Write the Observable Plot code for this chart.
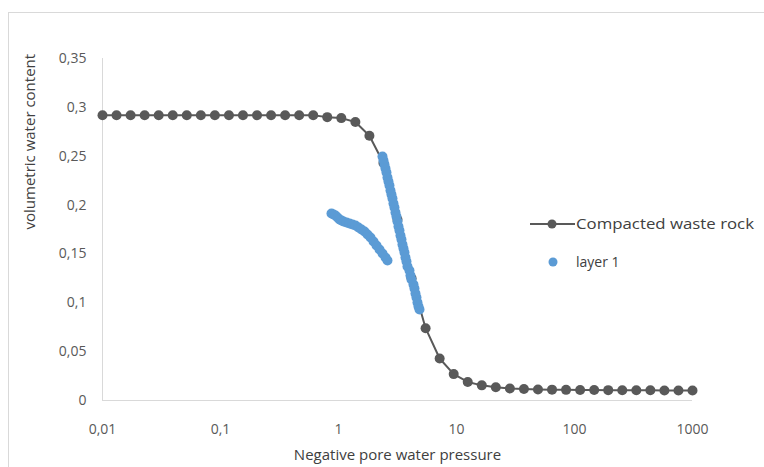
<!DOCTYPE html>
<html><head><meta charset="utf-8">
<script src="https://cdn.jsdelivr.net/npm/d3@7"></script>
<script src="https://cdn.jsdelivr.net/npm/@observablehq/plot@0.6"></script>
<style>
body{margin:0;background:#fff;}
#wrap{position:relative;width:764px;height:467px;overflow:hidden;background:#fff;}
#border{position:absolute;left:8px;top:12px;width:900px;height:600px;border-left:1px solid #d9d9d9;border-top:1px solid #d9d9d9;}
#chart{position:absolute;left:0;top:0;}
#legend{position:absolute;left:520px;top:205px;}
</style>
</head><body>
<div id="wrap"><div id="border"></div><div id="chart"></div>
<svg id="legend" width="244" height="75" font-family="Open Sans, sans-serif">
  <line x1="10" y1="19" x2="55" y2="19" stroke="#595959" stroke-width="2"/>
  <circle cx="32" cy="19" r="4.5" fill="#595959"/>
  <text x="56" y="24" font-size="14" fill="#404040" textLength="178" lengthAdjust="spacingAndGlyphs">Compacted waste rock</text>
  <circle cx="33" cy="57" r="4.5" fill="#5b9bd5"/>
  <text x="56" y="62" font-size="14" fill="#404040">layer 1</text>
</svg>
</div>
<script>
const rockPressure = [0.01,0.01315,0.0173,0.02276,0.02994,0.03938,0.05179,0.06813,0.08961,0.1179,0.155,0.204,0.2683,0.3529,0.4642,0.6105,0.8031,1.056,1.39,1.828,2.404,3.162,4.16,5.471,7.197,9.467,12.45,16.38,21.54,28.34,37.28,49.03,64.5,84.83,111.6,146.8,193.1,254,334.1,439.4,578,760.3,1000];
const rockContent = [0.292,0.292,0.292,0.292,0.292,0.292,0.292,0.292,0.292,0.292,0.292,0.292,0.292,0.292,0.292,0.292,0.290,0.289,0.285,0.271,0.243,0.185,0.125,0.074,0.043,0.027,0.019,0.0155,0.0135,0.0123,0.0117,0.0113,0.0111,0.0109,0.0108,0.0107,0.0106,0.0105,0.0104,0.0104,0.0103,0.0103,0.0102];

const layerPressure = [0.872,0.907,0.943,0.981,1.02,1.06,1.102,1.169,1.239,1.314,1.393,1.477,1.566,1.661,1.761,1.867,1.98,2.099,2.226,2.36,2.502,2.601,
  2.36,2.406,2.453,2.502,2.551,2.601,2.652,2.704,2.758,2.812,2.867,2.924,2.981,3.04,3.099,3.162,3.224,3.287,3.352,3.418,3.485,3.554,3.624,3.695,3.768,3.842,3.995,4.074,4.154,4.319,4.404,4.491,4.579,4.669,4.764,4.858];
const layerContent = [0.1914,0.1904,0.1894,0.1873,0.1853,0.1842,0.1832,0.1822,0.1812,0.1801,0.1791,0.1771,0.175,0.173,0.1699,0.1668,0.1627,0.1586,0.1546,0.1505,0.1464,0.1433,
  0.2497,0.2456,0.2416,0.2375,0.2334,0.2282,0.2242,0.2201,0.2149,0.2108,0.2068,0.2016,0.1976,0.1924,0.1883,0.1832,0.1781,0.174,0.1689,0.1648,0.1597,0.1556,0.1515,0.1464,0.1423,0.1372,0.1331,0.1279,0.1238,0.1187,0.1146,0.1095,0.1054,0.1003,0.0962,0.0931];

const xTicks = [0.01,0.1,1,10,100,1000];
const yTicks = [0,0.05,0.1,0.15,0.2,0.25,0.3,0.35];
const xTitle = "Negative pore water pressure";
const yTitle = "volumetric water content";

const rock = rockPressure.map((p,i)=>({p, v: rockContent[i]}));
const layer = layerPressure.map((p,i)=>({p, v: layerContent[i]}));
const fmt = d => String(d).replace(".", ",");

const chart = Plot.plot({
  width: 764, height: 467,
  marginLeft: 102, marginRight: 72, marginTop: 58, marginBottom: 67,
  style: {fontFamily: "Open Sans, sans-serif", color: "#595959", background: "transparent"},
  x: {type: "log", domain: [0.01, 1000]},
  y: {domain: [0, 0.35]},
  marks: [
    Plot.ruleX([0.01], {stroke: "#d9d9d9", strokeWidth: 1}),
    Plot.ruleY([0], {stroke: "#d9d9d9", strokeWidth: 1}),
    Plot.axisX({ticks: xTicks, tickFormat: fmt, tickSize: 0, tickPadding: 24, fontSize: 14, label: null}),
    Plot.axisY({ticks: yTicks, tickFormat: fmt, tickSize: 0, tickPadding: 16, fontSize: 14, label: null}),
    Plot.text([xTitle], {frameAnchor: "bottom", dy: 59, fontSize: 15, fill: "#404040", text: d => d}),
    Plot.text([yTitle], {frameAnchor: "left", dx: -72, rotate: -90, fontSize: 15, fill: "#404040", text: d => d}),
    Plot.line(rock, {x: "p", y: "v", stroke: "#595959", strokeWidth: 2}),
    Plot.dot(rock, {x: "p", y: "v", r: 5, fill: "#595959"}),
    Plot.dot(layer, {x: "p", y: "v", r: 5, fill: "#5b9bd5"})
  ]
});
document.getElementById("chart").appendChild(chart);
</script>
</body></html>
